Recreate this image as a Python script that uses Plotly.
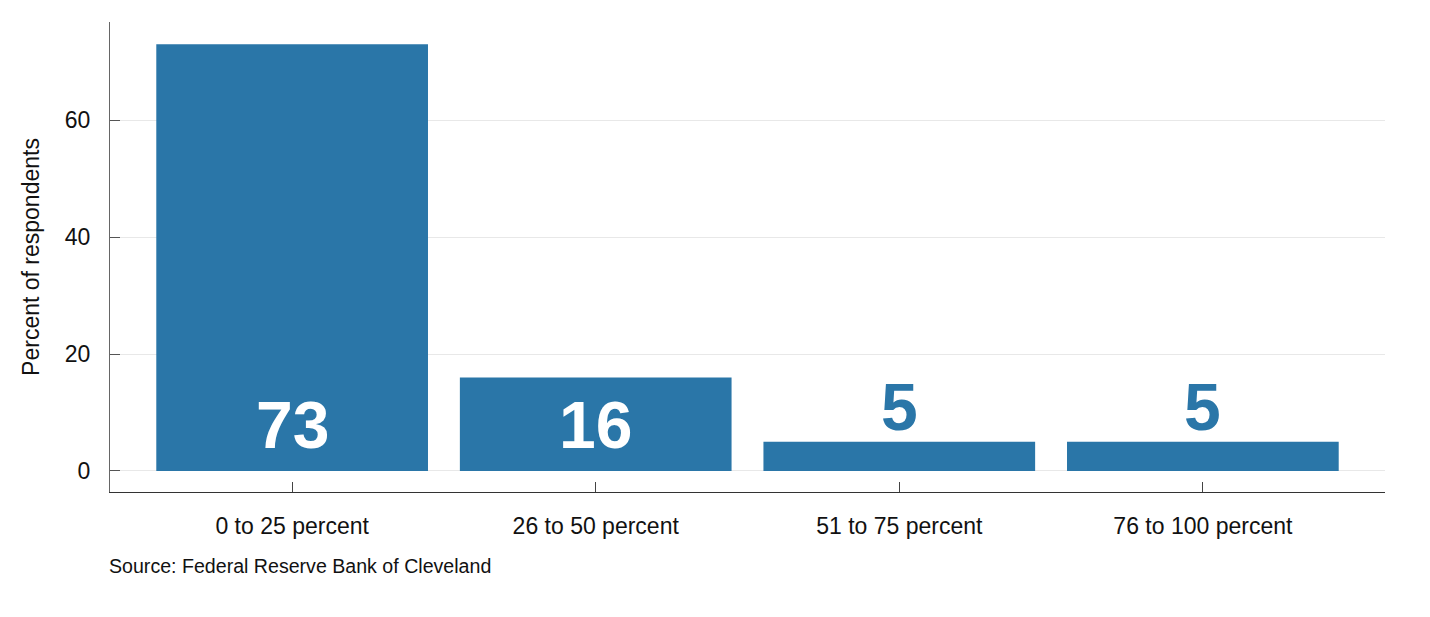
import plotly.graph_objects as go

categories = ["0 to 25 percent", "26 to 50 percent", "51 to 75 percent", "76 to 100 percent"]
values = [73, 16, 5, 5]
y_ticks = [0, 20, 40, 60]
source_text = "Source: Federal Reserve Bank of Cleveland"
y_title = "Percent of respondents"

bar_color = "#2a76a8"
font_family = "Arial, Liberation Sans, sans-serif"

fig = go.Figure()
fig.add_trace(go.Bar(
    x=list(range(len(categories))),
    y=values,
    marker=dict(color=bar_color, line=dict(width=0)),
    width=0.895,
    hoverinfo="skip",
))

for i, v in enumerate(values):
    if v > 12:
        fig.add_annotation(x=i, y=7.9, text=f"<b>{v}</b>", showarrow=False,
                           font=dict(size=66, color="white", family=font_family),
                           xanchor="center", yanchor="middle")
    else:
        fig.add_annotation(x=i, y=v + 6, text=f"<b>{v}</b>", showarrow=False,
                           font=dict(size=66, color=bar_color, family=font_family),
                           xanchor="center", yanchor="middle")

fig.add_annotation(x=-0.002, y=-0.157, xref="paper", yref="paper", text=source_text,
                   showarrow=False, xanchor="left", yanchor="middle",
                   font=dict(size=19.6, color="#111", family=font_family))

fig.update_layout(
    width=1430, height=617,
    margin=dict(l=102, r=53, t=14, b=133),
    paper_bgcolor="white", plot_bgcolor="white",
    showlegend=False,
    font=dict(family=font_family, size=23, color="#111"),
)
fig.update_xaxes(
    range=[-0.6, 3.6],
    tickmode="array", tickvals=list(range(len(categories))), ticktext=categories,
    ticks="inside", ticklen=10, tickcolor="#444", tickwidth=1,
    showline=True, linecolor="#333", linewidth=1,
    showgrid=False, zeroline=False,
    ticklabelstandoff=13,
    tickfont=dict(size=23, family=font_family, color="#111"),
)
fig.update_yaxes(
    range=[-3.6, 76.8],
    tickmode="array", tickvals=y_ticks,
    ticks="inside", ticklen=10, tickcolor="#555", tickwidth=1,
    showline=True, linecolor="#666", linewidth=1,
    showgrid=True, gridcolor="#e8e8e8", gridwidth=1, zeroline=False,
    ticklabelstandoff=14,
    tickfont=dict(size=23, family=font_family, color="#111"),
    title=dict(text=y_title, font=dict(size=23, family=font_family, color="#111"), standoff=18),
)

fig.write_html("out.html")
